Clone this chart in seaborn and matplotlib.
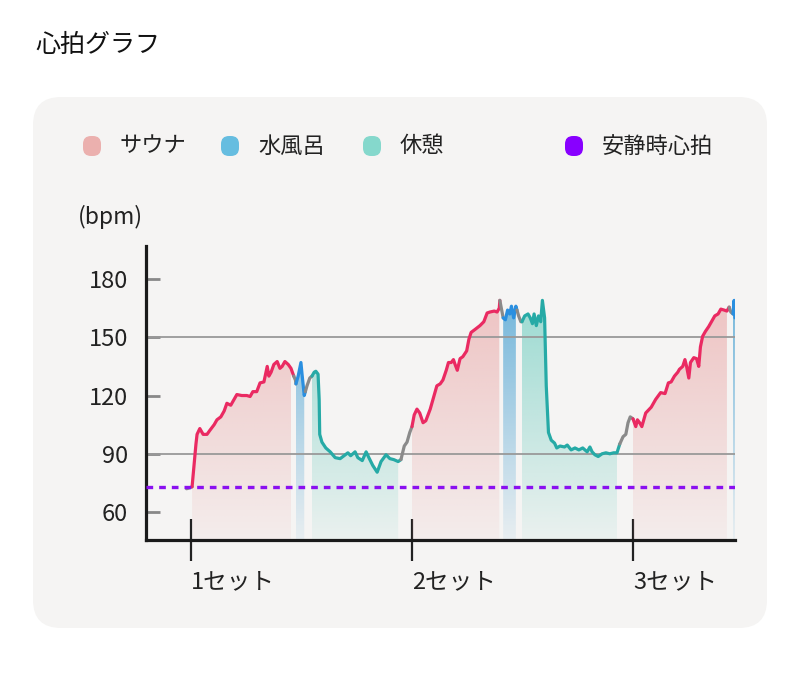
import numpy as np
import pandas as pd
import seaborn as sns
import matplotlib
matplotlib.use('Agg')
import matplotlib.pyplot as plt
from matplotlib.patches import FancyBboxPatch, Polygon
from matplotlib.transforms import IdentityTransform
from matplotlib.colors import to_rgb

# heart rate trace: time (min), bpm, phase of each point
t_min = [
    -0.8, -0.2,
    0.2, 0.9, 1.1, 1.6, 2.2, 2.9, 3.4, 4.2, 4.7, 5.4, 6.0, 6.5, 7.2, 7.8, 8.3, 9.2, 10.1, 10.7,
    11.2, 11.9, 12.5, 13.2, 13.8, 14.1, 14.5, 15.0, 15.6, 16.1, 16.5, 17.0, 17.6, 18.1,
    18.6, 18.9,
    19.0, 19.4, 19.9, 20.1, 20.5,
    20.7, 21.0, 21.5,
    21.9, 22.3, 22.6, 23.0, 23.2, 23.3, 23.7, 24.4, 25.2, 26.1, 27.0, 27.7, 28.4, 28.9, 29.7,
    30.2, 31.0, 31.7, 32.2, 32.9, 33.7, 34.4, 35.3, 36.0, 36.7, 37.5,
    38.0, 38.6, 39.1, 39.6,
    40.0, 40.4, 40.9, 41.4, 42.0, 42.5, 43.3, 44.0, 44.5, 45.1, 45.6, 46.2, 46.6, 47.1, 47.5,
    47.8, 48.2, 48.7, 49.2, 49.9, 50.3, 50.7, 51.4, 52.3, 53.0, 53.6, 54.1, 54.9, 55.4, 55.8,
    55.9, 56.3,
    56.5, 56.9, 57.3, 57.7, 58.0, 58.4, 58.8,
    59.0, 59.3, 59.7,
    59.9, 60.4, 61.0, 61.4, 61.8, 62.1, 62.5, 62.9, 63.3, 63.6, 64.0, 64.3, 64.7, 65.2, 65.8,
    66.2, 66.8, 67.6, 68.1, 68.8, 69.5, 70.2, 70.9, 71.7, 72.2, 72.6, 73.1, 73.7, 74.4, 75.1,
    75.8, 76.5, 77.1,
    77.6, 78.2, 78.7, 79.1, 79.5,
    80.0, 80.5, 80.8, 81.2, 81.6, 82.3, 83.3, 84.1, 85.0, 85.8, 86.4, 86.9, 87.5, 88.1, 88.4,
    89.0, 89.4, 89.7, 90.1, 90.4, 91.0, 91.5, 91.9, 92.2, 92.6, 93.1, 93.7, 94.2, 94.8, 95.4,
    95.9, 96.5, 97.0,
    97.4, 97.7,
    98.1, 98.3, 98.45,
]
hr = [
    72, 72.5,
    73, 95, 100, 103, 100, 100, 102, 105, 107.5, 109, 112, 116, 115, 118, 120.5, 120, 120, 119.5,
    122, 122, 126.5, 127, 135, 130, 132, 136, 137.5, 134, 135, 137.5, 136, 134,
    130, 128,
    126, 130, 137, 131, 120,
    122, 125, 129,
    130, 132, 132.5, 131, 118, 100, 96, 93, 91, 88, 87.5, 89, 90.5, 89, 91,
    88, 86.5, 91, 88, 84, 80.5, 86, 89.5, 87.5, 87, 86,
    87, 94, 96, 101,
    104, 110, 113, 111, 106, 107, 113, 120, 125, 126, 128, 133, 137, 137, 138.5,
    136, 133, 139, 140, 143, 149, 152.5, 154, 156, 158, 162.5, 163, 163.5, 163, 165,
    169, 163,
    160, 159, 164, 162, 166, 160, 166,
    164, 161, 158,
    158, 161, 162, 160, 157, 162, 156, 161, 158, 169, 160, 125, 101, 97, 95.5,
    93, 94, 93.5, 94.5, 92, 93, 92, 93, 91, 93.5, 91, 89.5, 88.6, 90, 90.5,
    90, 90.5, 90.5,
    95, 98.8, 100, 106, 109,
    108, 104, 107.5, 106, 104, 111, 114, 118, 121.5, 121, 126.5, 127, 130, 132, 133.5,
    135, 138.5, 135, 129, 137, 139.5, 139, 135, 145, 150.5, 153, 155.5, 158, 161, 162,
    164.5, 164, 163.5,
    165.5, 163,
    162, 169, 160,
]
phase = (['gap'] * 2 + ['sauna'] * 32 + ['gap'] * 2 + ['cold'] * 5 + ['gap'] * 3
         + ['rest'] * 26 + ['gap'] * 4 + ['sauna'] * 30 + ['gap'] * 2 + ['cold'] * 7
         + ['gap'] * 3 + ['rest'] * 33 + ['gap'] * 5 + ['sauna'] * 33 + ['gap'] * 2
         + ['cold'] * 3)

resting_hr = 73
set_pos = [0, 40, 80]
set_labels = ['1セット', '2セット', '3セット']
y_ticks = [60, 90, 120, 150, 180]
grid_y = [90, 150]

legend_labels = ['サウナ', '水風呂', '休憩', '安静時心拍']
legend_colors = ['#ebb0ae', '#66bde0', '#85d8cc', '#8800ff']

line_colors = {'sauna': '#ea2a62', 'cold': '#2a8fe0', 'rest': '#26aaa6', 'gap': '#8a8a8a'}
fill_colors = {'sauna': '#e89a9a', 'cold': '#5aaad6', 'rest': '#72cfc2'}
fill_alpha = {'sauna': (0.08, 0.55), 'cold': (0.08, 0.85), 'rest': (0.08, 0.7)}

sns.set_theme(style='white')
plt.rcParams['font.family'] = ['Noto Sans CJK JP', 'DejaVu Sans']

df = pd.DataFrame({'t': t_min, 'hr': hr, 'phase': phase})
df['run'] = (df['phase'] != df['phase'].shift()).cumsum()

# each run is drawn up to the first point of the next one so the trace stays joined
pieces = []
for run_id, g in df.groupby('run'):
    nxt = df[df['run'] == run_id + 1].head(1)
    piece = pd.concat([g, nxt.assign(phase=g['phase'].iloc[0], run=run_id)])
    piece['seg'] = 's%02d' % run_id
    pieces.append(piece)
lines = pd.concat(pieces, ignore_index=True)
seg_pal = {s: line_colors[p] for s, p in lines.groupby('seg')['phase'].first().items()}

fig = plt.figure(figsize=(8, 6.76), dpi=100)
fig.patch.set_facecolor('white')

card = FancyBboxPatch((33, 48), 734, 531, boxstyle='round,pad=0,rounding_size=28',
                      fc='#f5f4f3', ec='none', transform=IdentityTransform(), zorder=-1)
fig.add_artist(card)

ax = fig.add_axes([146 / 800, 136 / 676, 589 / 800, 294 / 676])
ax.set_facecolor('none')
ybot, ytop = 45.6, 197.0

# gradient fills under sauna / cold / rest segments
for run_id, g in df.groupby('run'):
    p = g['phase'].iloc[0]
    if p == 'gap':
        continue
    x = g['t'].values
    y = g['hr'].values
    a0, a1 = fill_alpha[p]
    grad = np.linspace(0, 1, 256).reshape(-1, 1)
    rgba = np.zeros((256, 1, 4))
    rgba[..., :3] = to_rgb(fill_colors[p])
    rgba[..., 3] = a0 + (a1 - a0) * grad
    im = ax.imshow(rgba, extent=[x[0], x[-1], ybot, 172], origin='lower',
                   aspect='auto', zorder=1, interpolation='bilinear')
    verts = [(x[0], ybot)] + list(zip(x, y)) + [(x[-1], ybot)]
    clip = Polygon(verts, closed=True, fc='none', ec='none', transform=ax.transData)
    im.set_clip_path(clip)

for gy in grid_y:
    ax.axhline(gy, color='#999999', lw=1.3, zorder=2)

sns.lineplot(data=lines, x='t', y='hr', hue='seg', palette=seg_pal, legend=False,
             estimator=None, sort=False, linewidth=2.3, ax=ax, zorder=4)

ax.axhline(resting_hr, color='#8a10f0', lw=2.4, dashes=(2, 1.8), zorder=5)

ax.set_xlim(-8.14, 98.46)
ax.set_ylim(ybot, ytop)
ax.set_xlabel('')
ax.set_ylabel('')
ax.set_yticks(y_ticks)
ax.set_yticklabels([str(v) for v in y_ticks], fontsize=17, color='#222222')
ax.set_xticks(set_pos)
ax.set_xticklabels(set_labels, fontsize=17, ha='left', color='#222222')
ax.tick_params(axis='y', direction='in', length=10, width=2, color='#888888', pad=13, left=True)
ax.tick_params(axis='x', direction='inout', length=30, width=1.6, color='#222222', pad=7, bottom=True)

for s in ['top', 'right']:
    ax.spines[s].set_visible(False)
for s in ['left', 'bottom']:
    ax.spines[s].set_color('#1a1a1a')
    ax.spines[s].set_linewidth(2.3)
ax.grid(False)

fig.text(35 / 800, 1 - 45 / 676, '心拍グラフ', fontsize=18,
         va='center', ha='left', color='#111111')
fig.text(78 / 800, 1 - 217 / 676, '(bpm)', fontsize=16.5, va='center', ha='left', color='#222222')

leg_x = [92, 230, 372, 574]
for cx, lab, col in zip(leg_x, legend_labels, legend_colors):
    mk = FancyBboxPatch((cx - 9, 676 - 146 - 10), 18, 20, boxstyle='round,pad=0,rounding_size=8',
                        fc=col, ec='none', transform=IdentityTransform(), zorder=3)
    fig.add_artist(mk)
    fig.text((cx + 28) / 800, 1 - 146 / 676, lab, fontsize=16, va='center', ha='left', color='#222222')

fig.savefig('out.png', dpi=100, facecolor='white')
